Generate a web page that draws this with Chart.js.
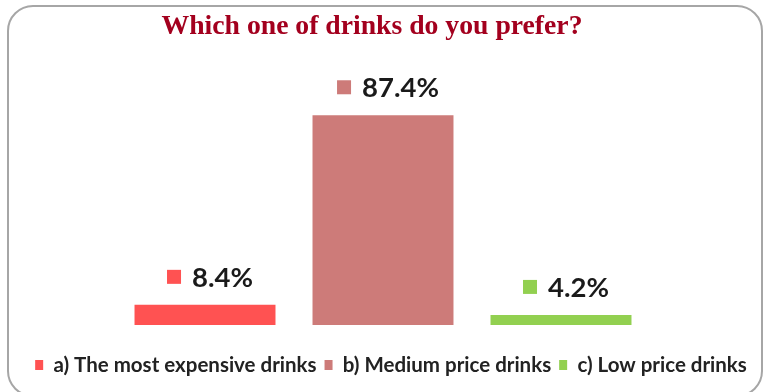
<!DOCTYPE html>
<html>
<head>
<meta charset="utf-8">
<script src="https://cdn.jsdelivr.net/npm/chart.js@4.4.1/dist/chart.umd.min.js"></script>
<style>
  html, body { margin: 0; padding: 0; background: #fff; }
  #wrap { position: relative; width: 769px; height: 392px; }
  #frame {
    position: absolute; left: 7px; top: 5px; width: 756px; height: 392px;
    border: 2px solid #a6a6a6; border-radius: 26px; box-sizing: border-box;
    pointer-events: none;
  }
</style>
</head>
<body>
<div id="wrap">
  <canvas id="drinkChart" width="769" height="392"></canvas>
  <div id="frame"></div>
</div>
<script>
const chartTitle = "Which one of drinks do you prefer?";
const seriesNames = ["a) The most expensive drinks", "b) Medium price drinks", "c) Low price drinks"];
const seriesValues = [8.4, 87.4, 4.2];
const seriesColors = ["#ff5252", "#cd7b79", "#92d050"];

// value labels with a little colour square in front, like the original
const valueLabels = {
  id: "valueLabels",
  afterDatasetsDraw(chart) {
    const ctx = chart.ctx;
    ctx.save();
    ctx.font = "bold 27.5px Lato";
    ctx.textBaseline = "middle";
    chart.data.datasets.forEach((ds, i) => {
      const bar = chart.getDatasetMeta(i).data[0];
      const text = ds.data[0].toFixed(1) + "%";
      const tw = ctx.measureText(text).width;
      const sq = 14, gap = 11;
      const total = sq + gap + tw;
      const left = bar.x - total / 2 + 5;
      const cy = bar.y - 28;
      ctx.fillStyle = ds.backgroundColor;
      ctx.fillRect(left, cy - sq / 2, sq, sq);
      ctx.fillStyle = "#1a1a1a";
      ctx.fillText(text, left + sq + gap, cy + 1);
    });
    ctx.restore();
  }
};

// the legend sits a bit right of the title in the original
const legendShift = {
  id: "legendShift",
  afterLayout(chart) {
    chart.legend.left += 19;
    chart.legend.right += 19;
  }
};

const ctx = document.getElementById("drinkChart").getContext("2d");
new Chart(ctx, {
  type: "bar",
  data: {
    labels: [""],
    datasets: seriesNames.map((name, i) => ({
      label: name,
      data: [seriesValues[i]],
      backgroundColor: seriesColors[i],
      borderWidth: 0
    }))
  },
  options: {
    responsive: false,
    animation: false,
    categoryPercentage: 0.7396,
    barPercentage: 0.792,
    layout: { padding: { left: 0, right: 25, top: 0, bottom: 6.75 } },
    scales: {
      x: { display: false },
      y: {
        display: true,
        min: 0,
        max: 100,
        grid: { display: false },
        border: { display: false },
        ticks: { display: false },
        afterFit(scale) { scale.width = 22; }
      }
    },
    plugins: {
      title: {
        display: true,
        text: chartTitle,
        color: "#a3001e",
        font: { family: "Liberation Serif", size: 27.7, weight: "bold" },
        padding: { top: 10.4, bottom: 41.4 }
      },
      legend: {
        position: "bottom",
        title: { display: true, text: " ", font: { size: 10 }, padding: { top: 9.75, bottom: 0 } },
        labels: {
          color: "#222",
          font: { family: "Lato", size: 20.5, weight: "bold" },
          boxWidth: 8,
          boxHeight: 10,
          padding: 8
        }
      },
      tooltip: { enabled: false }
    }
  },
  plugins: [valueLabels, legendShift]
});
</script>
</body>
</html>
